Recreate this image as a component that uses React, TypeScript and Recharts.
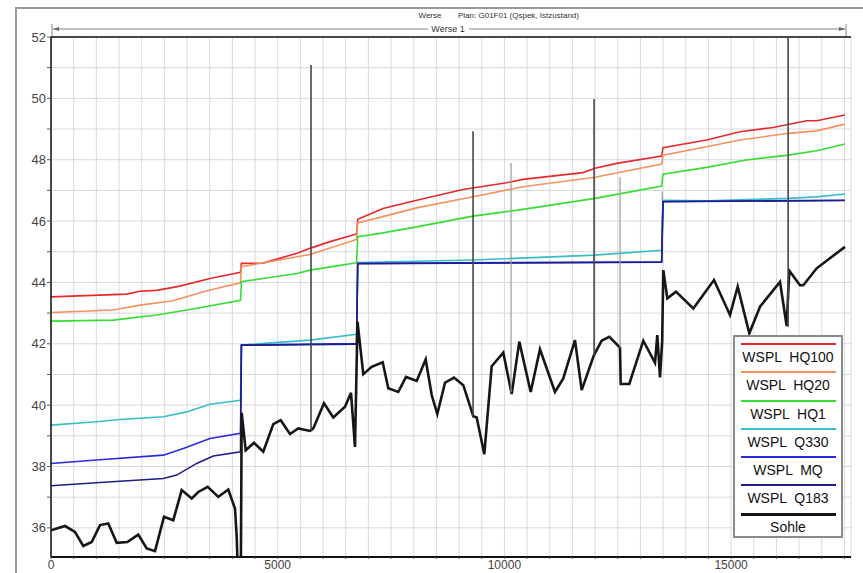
import { LineChart, Line, XAxis, YAxis, CartesianGrid, ReferenceLine } from 'recharts';

const font = 'Arial, "Liberation Sans", sans-serif';

// station [m] / level [m]
const hq100: [number, number][] = [
  [0, 43.53], [1670, 43.62], [1963, 43.71], [2331, 43.74], [2845, 43.88], [3507, 44.13],
  [4180, 44.33], [4200, 44.62], [4676, 44.63], [5426, 44.95], [5712, 45.11], [6154, 45.33],
  [6740, 45.58], [6765, 46.06], [7323, 46.41], [8066, 46.68], [9087, 47.03], [10051, 47.25],
  [10410, 47.36], [11734, 47.58], [11998, 47.72], [12477, 47.88], [13469, 48.12], [13498, 48.39],
  [14462, 48.64], [15197, 48.91], [15924, 49.05], [16668, 49.27], [16888, 49.27], [17512, 49.46],
];

const hq20: [number, number][] = [
  [0, 43.02], [1370, 43.1], [1963, 43.26], [2690, 43.4], [3440, 43.73], [4180, 43.99],
  [4200, 44.51], [5712, 44.91], [6740, 45.4], [6765, 45.94], [7256, 46.12], [8066, 46.43],
  [9309, 46.79], [10410, 47.12], [11998, 47.43], [13469, 47.86], [13498, 48.15], [14462, 48.42],
  [15197, 48.64], [16258, 48.86], [16888, 48.94], [17512, 49.16],
];

const hq1: [number, number][] = [
  [0, 42.74], [1370, 42.77], [2331, 42.94], [3066, 43.12], [4180, 43.42], [4200, 44.02],
  [4676, 44.13], [5426, 44.29], [5712, 44.4], [6740, 44.64], [6765, 45.49], [7256, 45.6],
  [8066, 45.81], [9309, 46.16], [10410, 46.38], [11998, 46.74], [13469, 47.14], [13498, 47.53],
  [14462, 47.75], [15330, 47.99], [16258, 48.15], [16888, 48.29], [17512, 48.51],
];

const q330: [number, number][] = [
  [0, 39.35], [1000, 39.46], [1522, 39.53], [2477, 39.62], [2993, 39.78], [3507, 40.03],
  [4180, 40.16], [4200, 41.96], [5712, 42.12], [6740, 42.31], [6765, 44.65], [9309, 44.73],
  [11998, 44.89], [13469, 45.05], [13498, 46.68], [14462, 46.66], [16258, 46.74],
  [16888, 46.79], [17512, 46.88],
];

const mq: [number, number][] = [
  [0, 38.1], [1000, 38.21], [2477, 38.37], [2918, 38.59], [3507, 38.91], [4180, 39.08],
  [4200, 41.96], [6740, 42.01], [6765, 44.62], [13469, 44.67], [13498, 46.64], [17512, 46.68],
];

const q183: [number, number][] = [
  [0, 37.37], [1000, 37.47], [2477, 37.61], [2772, 37.72], [3213, 38.1], [3580, 38.34],
  [4180, 38.48], [4200, 41.95], [6740, 41.99], [6765, 44.61], [13469, 44.66], [13498, 46.63],
  [17512, 46.67],
];

const sohle: [number, number][] = [
  [0, 35.92], [309, 36.06], [529, 35.87], [712, 35.41], [898, 35.54], [1081, 36.09],
  [1264, 36.14], [1449, 35.51], [1683, 35.54], [1925, 35.78], [2111, 35.33], [2294, 35.24],
  [2492, 36.36], [2697, 36.25], [2883, 37.23], [3103, 36.96], [3249, 37.17], [3456, 37.34],
  [3690, 37.01], [3911, 37.25], [4058, 36.63], [4096, 35.71], [4131, 34.0], [4185, 34.0],
  [4206, 39.75], [4294, 38.53], [4477, 38.77], [4682, 38.48], [4903, 39.38], [5066, 39.51],
  [5271, 39.06], [5454, 39.24], [5712, 39.16], [5785, 39.24], [6021, 40.06], [6226, 39.6],
  [6484, 39.95], [6617, 40.4], [6705, 38.64], [6760, 42.72], [6888, 41.01], [7073, 41.25],
  [7316, 41.4], [7439, 40.55], [7660, 40.43], [7830, 40.92], [8066, 40.79], [8264, 41.49],
  [8397, 40.33], [8520, 39.71], [8690, 40.73], [8888, 40.9], [9094, 40.65], [9314, 39.64],
  [9389, 39.6], [9557, 38.4], [9720, 41.27], [9976, 41.71], [10161, 40.36], [10329, 42.07],
  [10580, 40.43], [10785, 41.82], [11116, 40.43], [11299, 40.87], [11557, 42.12], [11705, 40.49],
  [11976, 41.63], [12146, 42.1], [12314, 42.23], [12550, 41.88], [12565, 40.69], [12755, 40.69],
  [13064, 42.1], [13322, 41.38], [13373, 42.28], [13432, 40.9], [13480, 42.07], [13505, 44.4],
  [13593, 43.48], [13785, 43.7], [14167, 43.15], [14623, 44.08], [14976, 42.94], [15146, 43.86],
  [15402, 42.34], [15638, 43.21], [16079, 44.02], [16226, 42.58], [16284, 44.38], [16520, 43.91],
  [16593, 43.91], [16888, 44.46], [17512, 45.16],
];

// structures: station, bottom, top
const structures: [number, number, number][] = [
  [5735, 39.18, 51.09], [9309, 39.64, 48.93], [11978, 41.63, 49.98], [16258, 42.55, 52],
];
const thinMarks: [number, number, number][] = [
  [10147, 40.42, 47.89], [12551, 41.88, 47.44], [13480, 46.68, 46.96],
];

const xTicks = Array.from({ length: 36 }, (_, i) => i * 500);
const yTicks = Array.from({ length: 17 }, (_, i) => 36 + i);

const series = [
  { name: 'WSPL  HQ100', color: '#e42a2c', width: 1.6, data: hq100 },
  { name: 'WSPL  HQ20', color: '#f5925e', width: 1.6, data: hq20 },
  { name: 'WSPL  HQ1', color: '#35dd35', width: 1.6, data: hq1 },
  { name: 'WSPL  Q330', color: '#36bfc6', width: 1.6, data: q330 },
  { name: 'WSPL  MQ', color: '#2a2ae0', width: 1.6, data: mq },
  { name: 'WSPL  Q183', color: '#1e1e88', width: 1.6, data: q183 },
  { name: 'Sohle', color: '#161616', width: 2.6, data: sohle },
];

const toRows = (pts: [number, number][]) => pts.map(([x, y]) => ({ x, y }));

export default function App() {
  return (
    <div style={{ position: 'absolute', left: 0, top: 0, width: 863, height: 573, background: '#fff', overflow: 'hidden', fontFamily: font }}>
      <div style={{ position: 'absolute', left: 15, top: 7, width: 860, height: 580, border: '2px solid #9a9a9a' }} />
      <svg width={863} height={40} style={{ position: 'absolute', left: 0, top: 0 }}>
        <text x={430} y={18} fontSize={8} textAnchor="middle" fill="#333" fontFamily={font}>Werse</text>
        <text x={458} y={18} fontSize={8} fill="#333" fontFamily={font}>Plan: G01F01 (Qspek, Istzustand)</text>
        <line x1={53} y1={29} x2={428} y2={29} stroke="#666" strokeWidth={0.8} />
        <line x1={469} y1={29} x2={845} y2={29} stroke="#666" strokeWidth={0.8} />
        <path d="M53,29 L59,27 L59,31 Z" fill="#666" />
        <path d="M845,29 L839,27 L839,31 Z" fill="#666" />
        <line x1={52} y1={24} x2={52} y2={37} stroke="#666" strokeWidth={0.8} />
        <line x1={846} y1={24} x2={846} y2={37} stroke="#666" strokeWidth={0.8} />
        <text x={448} y={32} fontSize={9} textAnchor="middle" fill="#333" fontFamily={font}>Werse 1</text>
      </svg>
      <div style={{ position: 'absolute', left: 0, top: 0 }}>
        <LineChart width={863} height={573} margin={{ top: 37, right: 12, bottom: 0, left: 11 }}>
          <CartesianGrid stroke="#d9d9d9" strokeWidth={1} />
          <XAxis
            type="number"
            dataKey="x"
            domain={[0, 17645]}
            ticks={xTicks}
            interval={0}
            height={16}
            tickSize={2}
            tickMargin={1}
            tickFormatter={(v: number) => (v % 5000 === 0 ? String(v) : '')}
            tick={{ fontSize: 12, fill: '#444', fontFamily: font }}
            axisLine={{ stroke: '#111', strokeWidth: 2 }}
            tickLine={{ stroke: '#555' }}
            allowDataOverflow
          />
          <YAxis
            type="number"
            domain={[35.05, 52]}
            ticks={yTicks}
            interval={0}
            width={40}
            tickSize={4}
            tickMargin={1}
            tickFormatter={(v: number) => (v % 2 === 0 ? String(v) : '')}
            tick={{ fontSize: 13, fill: '#444', fontFamily: font }}
            axisLine={{ stroke: '#111', strokeWidth: 1.5 }}
            tickLine={{ stroke: '#555' }}
            allowDataOverflow
          />
          <ReferenceLine y={52} stroke="#111" strokeWidth={1.5} />
          {series.map((s) => (
            <Line
              key={s.name}
              data={toRows(s.data)}
              dataKey="y"
              type="linear"
              stroke={s.color}
              strokeWidth={s.width}
              dot={false}
              activeDot={false}
              isAnimationActive={false}
            />
          ))}
          {thinMarks.map(([x, lo, hi]) => (
            <ReferenceLine key={'t' + x} segment={[{ x, y: lo }, { x, y: hi }]} stroke="#9a9a9a" strokeWidth={1.2} />
          ))}
          {structures.map(([x, lo, hi]) => (
            <ReferenceLine key={'s' + x} segment={[{ x, y: lo }, { x, y: hi }]} stroke="#474747" strokeWidth={1.6} />
          ))}
        </LineChart>
      </div>
      <div
        style={{
          position: 'absolute', left: 733, top: 335, width: 110, height: 203,
          border: '2px solid #8a8a8a', background: '#fff', boxSizing: 'border-box',
        }}
      >
        {series.map((s) => (
          <div key={s.name} style={{ height: 28.3, position: 'relative' }}>
            <div style={{ position: 'absolute', left: 6, right: 5, top: 6, height: s.width > 2 ? 3 : 2, background: s.color }} />
            <div style={{ position: 'absolute', left: 0, right: 0, top: 12, textAlign: 'center', fontSize: 14, color: '#111', whiteSpace: 'pre', lineHeight: '16px' }}>
              {s.name}
            </div>
          </div>
        ))}
      </div>
    </div>
  );
}
